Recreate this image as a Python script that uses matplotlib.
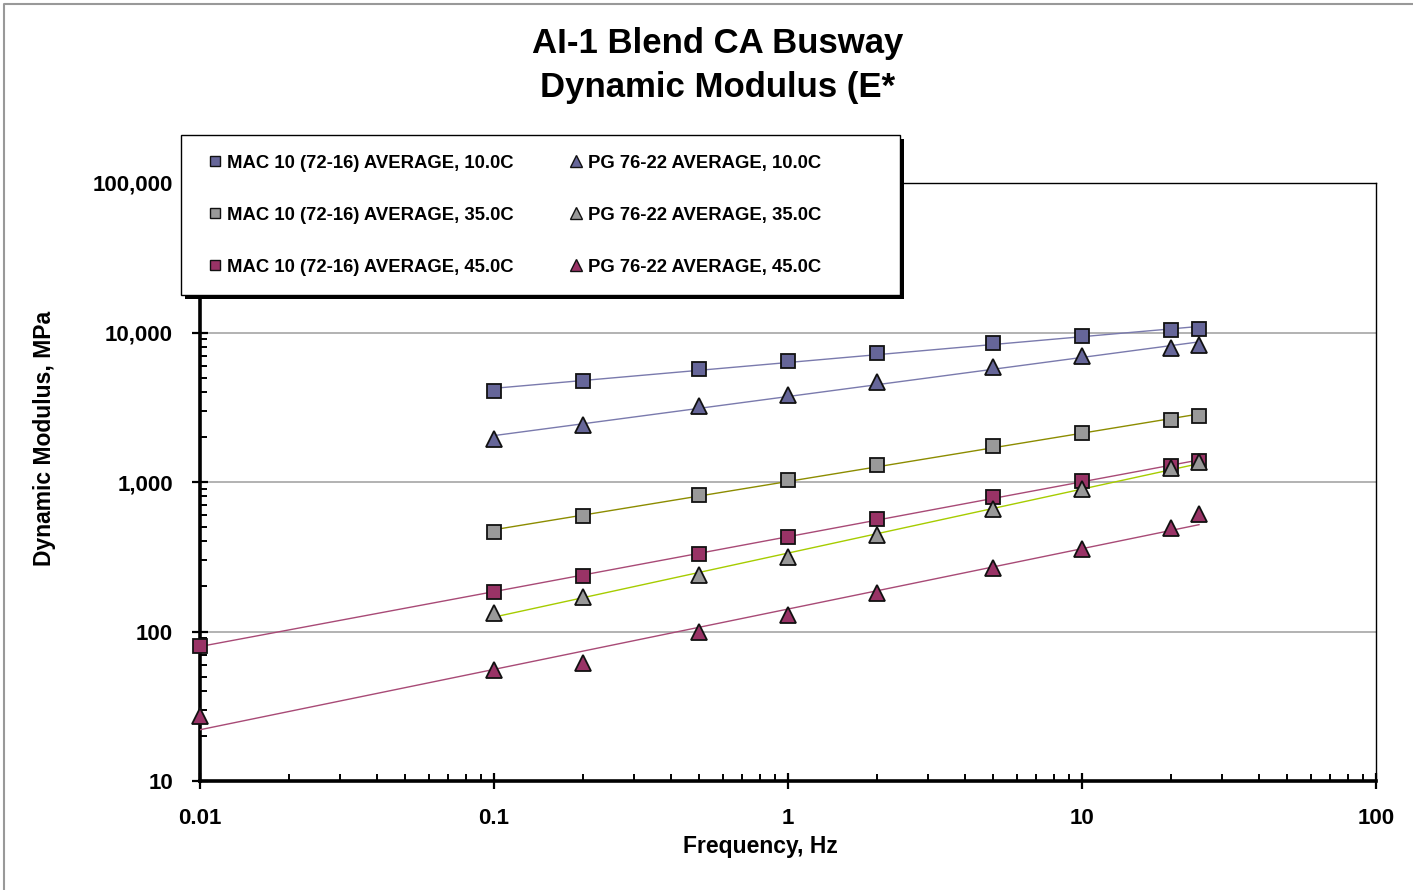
import numpy as np
import matplotlib
matplotlib.use("Agg")
import matplotlib.pyplot as plt
from matplotlib.lines import Line2D
from matplotlib.patches import Rectangle
from matplotlib.ticker import FuncFormatter, LogLocator

plt.rcParams['font.family'] = ['Liberation Sans', 'DejaVu Sans']
plt.rcParams['font.weight'] = 'bold'

# frequencies, Hz
freq = [0.1, 0.2, 0.5, 1, 2, 5, 10, 20, 25]
freq_low = [0.01, 0.1, 0.2, 0.5, 1, 2, 5, 10, 20, 25]

# dynamic modulus, MPa
mac_10 = [4060, 4740, 5700, 6450, 7290, 8510, 9480, 10400, 10550]
pg_10 = [1940, 2400, 3220, 3820, 4670, 5880, 6960, 7870, 8250]
mac_35 = [463, 593, 819, 1031, 1300, 1741, 2128, 2600, 2763]
pg_35 = [133, 170, 239, 315, 442, 659, 897, 1241, 1361]
mac_45 = [80, 184, 235, 330, 428, 566, 795, 1016, 1280, 1382]
pg_45 = [27.2, 55, 61.5, 99, 129, 181, 266, 357, 493, 611]

series = [
    ("MAC 10 (72-16) AVERAGE, 10.0C", freq, mac_10, 's', '#666699', '#7a7aad'),
    ("MAC 10 (72-16) AVERAGE, 35.0C", freq, mac_35, 's', '#999999', '#8c8c00'),
    ("MAC 10 (72-16) AVERAGE, 45.0C", freq_low, mac_45, 's', '#993366', '#a84a76'),
    ("PG 76-22 AVERAGE, 10.0C", freq, pg_10, '^', '#666699', '#7a7aad'),
    ("PG 76-22 AVERAGE, 35.0C", freq, pg_35, '^', '#999999', '#a6cc00'),
    ("PG 76-22 AVERAGE, 45.0C", freq_low, pg_45, '^', '#993366', '#a84a76'),
]

fig = plt.figure(figsize=(14.13, 8.9), dpi=100)
ax = fig.add_axes([200/1413, 1-781/890, 1176/1413, 598/890])

handles = []
for label, x, y, mk, fc, lc in series:
    x = np.array(x, dtype=float)
    y = np.array(y, dtype=float)
    # power trendline
    k, b = np.polyfit(np.log10(x), np.log10(y), 1)
    xx = np.logspace(np.log10(x.min()), np.log10(x.max()), 50)
    ax.plot(xx, 10**(k*np.log10(xx) + b), color=lc, lw=1.0, zorder=3)
    ms = 9.5 if mk == 's' else 11
    ax.plot(x, y, linestyle='none', marker=mk, ms=ms, mfc=fc, mec='#111111',
            mew=1.3, zorder=5, clip_on=False)
    handles.append(Line2D([], [], linestyle='none', marker=mk, ms=7 if mk == 's' else 8,
                          mfc=fc, mec='#111111', mew=1.0, label=label))

ax.set_xscale('log')
ax.set_yscale('log')
ax.set_xlim(0.01, 100)
ax.set_ylim(10, 100000)

ax.yaxis.set_major_formatter(FuncFormatter(lambda v, p: '{:,.0f}'.format(v)))
ax.xaxis.set_major_formatter(FuncFormatter(lambda v, p: '%g' % v))
ax.xaxis.set_minor_locator(LogLocator(base=10, subs=np.arange(2, 10), numticks=20))
ax.yaxis.set_minor_locator(LogLocator(base=10, subs=np.arange(2, 10), numticks=20))
ax.xaxis.set_minor_formatter(FuncFormatter(lambda v, p: ''))
ax.yaxis.set_minor_formatter(FuncFormatter(lambda v, p: ''))

ax.tick_params(which='major', direction='inout', length=11, width=1.6,
               labelsize=16, pad=14)
ax.tick_params(which='minor', direction='in', length=5, width=1.4)

ax.grid(True, which='major', axis='y', color='#a6a6a6', lw=1.2)
ax.set_axisbelow(True)

for s in ['left', 'bottom']:
    ax.spines[s].set_linewidth(2.6)
for s in ['top', 'right']:
    ax.spines[s].set_linewidth(1.0)

ax.set_xlabel('Frequency, Hz', fontsize=16.5, fontweight='bold')
ax.set_ylabel('Dynamic Modulus, MPa', fontsize=16.5, fontweight='bold')
ax.xaxis.set_label_coords(560/1176, -65/598)
ax.yaxis.set_label_coords(-155/1176, 343/598)
ax.xaxis.label.set_va('center')
ax.yaxis.label.set_va('center')

fig.text(0.508, 1-43/890, 'AI-1 Blend CA Busway', ha='center', va='center',
         fontsize=25, fontweight='bold')
fig.text(0.508, 1-87/890, 'Dynamic Modulus (E*', ha='center', va='center',
         fontsize=25, fontweight='bold')

# legend box with a black drop shadow
fig.patches.append(Rectangle((185/1413, 1-299/890), 719/1413, 160/890,
                             transform=fig.transFigure, fc='black', ec='none', zorder=8))
fig.patches.append(Rectangle((181/1413, 1-295/890), 719/1413, 160/890,
                             transform=fig.transFigure, fc='white', ec='black', lw=1.0, zorder=9))
leg = fig.legend(handles=handles, loc='upper left', bbox_to_anchor=(191/1413, 1-138/890),
                 ncol=2, frameon=False, fontsize=13.3, handlelength=0.8, handletextpad=0.25,
                 columnspacing=2.95, labelspacing=1.9)
leg.set_zorder(10)

# outer chart border
fig.add_artist(Line2D([4/1413, 4/1413, 1], [0, 1-4/890, 1-4/890],
                      transform=fig.transFigure, color='#999999', lw=1.5))

fig.savefig('out.png', dpi=100)
